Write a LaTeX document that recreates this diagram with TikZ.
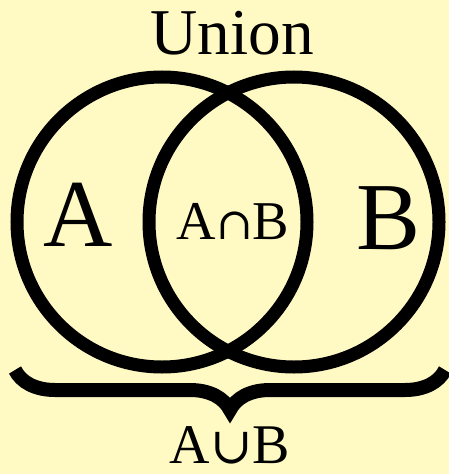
\documentclass[tikz,border=0pt]{standalone}
\usepackage{fontspec}
\setmainfont{Liberation Serif}
\newfontfamily\symfont{DejaVu Serif}
\usepackage{tikz}
\usetikzlibrary{decorations.pathreplacing}
\definecolor{paper}{RGB}{255,249,196}

\begin{document}
\begin{tikzpicture}[x=0.75pt,y=0.75pt,yscale=-1,xscale=1]
%background, sets the diagram size
\fill [paper] (0,0) rectangle (449,474) ;
\useasboundingbox (0,0) rectangle (449,474) ;

%Shape: Circle [A]
\draw [line width=9.75pt] (162,222) circle [radius=145] ;
%Shape: Circle [B]
\draw [line width=9.75pt] (294,222) circle [radius=145] ;

%Brace ends
\coordinate (braceL) at (15,370) ;
\coordinate (braceR) at (445,370) ;
%Brace
\draw [line width=10.5pt, decorate, decoration={brace, amplitude=30pt}] (braceR) -- (braceL) ;

% Text Node
\draw (232,33) node [inner sep=0pt] (union) {\fontsize{49}{55}\selectfont Union};
% Text Node
\draw (78,215) node [inner sep=0pt] (setA) {\fontsize{72}{80}\selectfont A};
% Text Node
\draw (389,218) node [inner sep=0pt] (setB) {\fontsize{72}{80}\selectfont B};
% Text Node
\draw (233,222) node [inner sep=0pt] (inter) {\fontsize{41}{50}\selectfont A{\symfont\fontsize{33}{50}\selectfont ∩}B};
% Text Node
\draw (230,445) node [inner sep=0pt] (unionAB) {\fontsize{42}{50}\selectfont A{\symfont\fontsize{38}{50}\selectfont ∪}B};

\end{tikzpicture}
\end{document}
